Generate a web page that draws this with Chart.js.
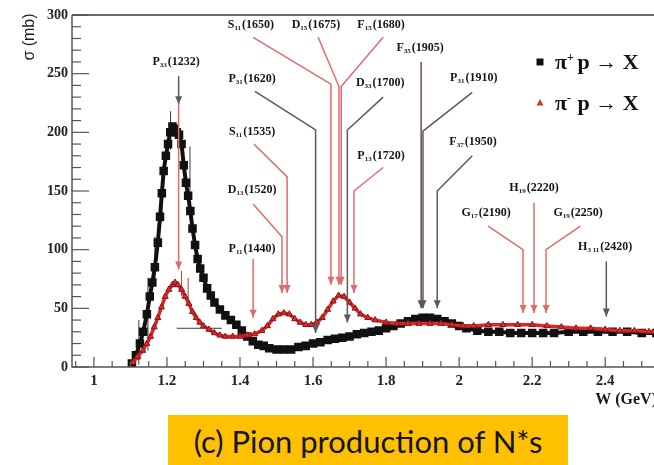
<!DOCTYPE html>
<html>
<head>
<meta charset="utf-8">
<script src="https://cdn.jsdelivr.net/npm/chart.js@4.4.0/dist/chart.umd.min.js"></script>
<style>
  html, body { margin: 0; padding: 0; background: #fff; overflow: hidden; }
  #wrap { position: relative; width: 654px; height: 465px; overflow: hidden; }
  #chart { position: absolute; left: 0; top: 0; }
  #caption {
    position: absolute; left: 168px; top: 415px; width: 400px; height: 60px;
    background: #ffc000; color: #141414; text-align: center;
    font-family: Lato, "Open Sans", sans-serif; font-size: 31px; line-height: 52px;
  }
</style>
</head>
<body>
<div id="wrap">
  <canvas id="chart" width="680" height="412"></canvas>
  <div id="caption">(c) Pion production of N*s</div>
</div>
<script>
// === DATA ===

// pi+ p -> X  (black squares)
const plusW = [1.104,1.115,1.126,1.135,1.145,1.153,1.160,1.167,1.175,1.181,1.186,1.191,1.197,1.203,1.209,1.215,1.221,1.227,1.233,1.240,
    1.246,1.252,1.258,1.264,1.270,1.277,1.284,1.291,1.300,1.310,1.320,1.330,1.345,1.360,1.375,1.390,1.405,1.420,1.435,1.450,
    1.465,1.480,1.500,1.520,1.540,1.560,1.580,1.600,1.620,1.640,1.660,1.680,1.700,1.720,1.740,1.760,1.780,1.800,1.820,1.840,
    1.860,1.880,1.900,1.920,1.940,1.960,1.980,2.000,2.020,2.050,2.080,2.110,2.140,2.170,2.200,2.230,2.260,2.300,2.340,2.380,
    2.420,2.460,2.500,2.540];
const plusSigma = [3,10,20,30,45,60,72,85,106,128,148,167,180,190,200,205,203,200,198,190,
    172,157,146,133,118,104,92,84,76,67,61,55,49,44,40,36,31,26,22,19,
    18,16,15,15,15,17,18,20,21,23,24,25,26,28,29,30,31,33,35,37,
    39,41,42,42,41,39,37,35,33,31,30,30,29,29,29,29,29,30,30,30,
    30,30,29,29];

// pi- p -> X  (red triangles)
const minusW = [1.107,1.120,1.134,1.145,1.155,1.165,1.175,1.185,1.195,1.205,1.215,1.222,1.230,1.240,1.250,1.260,1.270,1.280,1.290,1.300,
    1.315,1.330,1.345,1.360,1.380,1.400,1.420,1.440,1.460,1.475,1.490,1.505,1.520,1.535,1.550,1.565,1.580,1.595,1.610,1.625,
    1.640,1.655,1.670,1.685,1.700,1.715,1.730,1.750,1.770,1.800,1.830,1.860,1.890,1.920,1.950,1.980,2.010,2.040,2.080,2.120,
    2.160,2.200,2.240,2.280,2.320,2.360,2.400,2.440,2.480,2.520,2.550];
const minusSigma = [4,9,14,20,26,34,42,51,60,66,70,72,70,66,60,54,47,42,38,35,
    32,29,27,26,26,26,27,28,31,35,41,45,46,45,41,38,36,36,38,42,
    49,56,61,60,55,50,45,42,40,38,37,37,37,37,37,36,35,35,36,36,
    36,36,35,34,33,33,32,31,31,30,30];

// a few of the visible error bars
const plusErrW  = [1.123, 1.148, 1.167, 1.186, 1.210, 1.263];
const plusErrLo = [2, 14, 72, 123, 185, 143];
const plusErrHi = [40, 76, 111, 157, 218, 188];
const minusErrW  = [1.240, 1.258];
const minusErrLo = [60, 57];
const minusErrHi = [82, 76];
const plusWideBar = [1.227, 1.350, 33];   // from W, to W, sigma

const xTickValues = [1, 1.2, 1.4, 1.6, 1.8, 2, 2.2, 2.4];
const yTickValues = [0, 50, 100, 150, 200, 250, 300];

// resonance labels: letter, subscript, mass, W, sigma of label centre
const resLabels = [
    ['P', '33', '1232', 1.225, 261],
    ['S', '11', '1650', 1.430, 292],
    ['D', '15', '1675', 1.608, 292],
    ['F', '15', '1680', 1.786, 292],
    ['F', '35', '1905', 1.893, 273],
    ['P', '31', '1620', 1.433, 246],
    ['D', '33', '1700', 1.784, 243],
    ['P', '31', '1910', 2.040, 247],
    ['S', '11', '1535', 1.433, 201],
    ['F', '37', '1950', 2.038, 193],
    ['P', '13', '1720', 1.786, 181],
    ['D', '13', '1520', 1.433, 152],
    ['H', '19', '2220', 2.205, 153],
    ['G', '17', '2190', 2.074, 132],
    ['G', '19', '2250', 2.326, 132],
    ['P', '11', '1440', 1.433, 101],
    ['H', '3 11', '2420', 2.400, 103]
];

const RED = '#e26a6a', GREY = '#5a5a5a';
// pointer lines (W, sigma), arrow head at the last point
const resArrows = [
    [GREY, [[1.232, 248], [1.232, 224]]],
    [RED,  [[1.232, 224], [1.232, 83]]],
    [RED,  [[1.436, 281], [1.649, 241], [1.649, 70]]],
    [RED,  [[1.614, 281], [1.671, 239], [1.671, 70]]],
    [RED,  [[1.792, 281], [1.677, 239], [1.677, 70]]],
    [GREY, [[1.441, 235], [1.607, 202], [1.607, 29]]],
    [GREY, [[1.792, 230], [1.694, 202], [1.694, 38]]],
    [RED,  [[1.438, 190], [1.529, 162], [1.529, 63]]],
    [RED,  [[1.436, 139], [1.515, 111], [1.515, 63]]],
    [RED,  [[1.792, 170], [1.712, 150], [1.712, 63]]],
    [RED,  [[1.436, 92], [1.436, 42]]],
    ['#6e4848', [[1.896, 260], [1.896, 50]]],
    [GREY, [[2.036, 234], [1.901, 201], [1.901, 50]]],
    [GREY, [[2.036, 180], [1.940, 150], [1.940, 50]]],
    [RED,  [[2.079, 120], [2.175, 100], [2.175, 46]]],
    [RED,  [[2.205, 140], [2.205, 46]]],
    [RED,  [[2.332, 120], [2.238, 100], [2.238, 46]]],
    [GREY, [[2.403, 90], [2.403, 43]]]
];

// === DRAWING ===

const SERIF = '"Liberation Serif", "Times New Roman", serif';

function drawResLabel(ctx, cx, cy, letter, sub, mass) {
    const big = `bold 12px ${SERIF}`, small = `bold 7px ${SERIF}`;
    ctx.font = big;
    const w1 = ctx.measureText(letter).width;
    const w3 = ctx.measureText('(' + mass + ')').width;
    ctx.font = small;
    const w2 = ctx.measureText(sub).width + 1;
    let x = cx - (w1 + w2 + w3) / 2;
    ctx.fillStyle = '#151515';
    ctx.textAlign = 'left';
    ctx.textBaseline = 'alphabetic';
    ctx.font = big;
    ctx.fillText(letter, x, cy + 4);
    ctx.font = small;
    ctx.fillText(sub, x + w1, cy + 6);
    ctx.font = big;
    ctx.fillText('(' + mass + ')', x + w1 + w2, cy + 4);
}

function drawArrow(ctx, pts, color) {
    ctx.strokeStyle = color;
    ctx.fillStyle = color;
    ctx.lineWidth = 1.5;
    ctx.beginPath();
    pts.forEach((p, i) => i ? ctx.lineTo(p[0], p[1]) : ctx.moveTo(p[0], p[1]));
    ctx.stroke();
    const [ex, ey] = pts[pts.length - 1];
    ctx.beginPath();
    ctx.moveTo(ex, ey);
    ctx.lineTo(ex - 3.5, ey - 8);
    ctx.lineTo(ex + 3.5, ey - 8);
    ctx.closePath();
    ctx.fill();
}

const overlay = {
    id: 'overlay',
    beforeDatasetsDraw(chart) {
        const { ctx, scales: { x, y } } = chart;
        ctx.save();
        ctx.lineWidth = 1;
        ctx.strokeStyle = '#3a3a3a';
        plusErrW.forEach((w, i) => {
            ctx.beginPath();
            ctx.moveTo(x.getPixelForValue(w), y.getPixelForValue(plusErrLo[i]));
            ctx.lineTo(x.getPixelForValue(w), y.getPixelForValue(plusErrHi[i]));
            ctx.stroke();
        });
        ctx.beginPath();
        ctx.moveTo(x.getPixelForValue(plusWideBar[0]), y.getPixelForValue(plusWideBar[2]));
        ctx.lineTo(x.getPixelForValue(plusWideBar[1]), y.getPixelForValue(plusWideBar[2]));
        ctx.stroke();
        ctx.strokeStyle = '#c0392b';
        minusErrW.forEach((w, i) => {
            ctx.beginPath();
            ctx.moveTo(x.getPixelForValue(w), y.getPixelForValue(minusErrLo[i]));
            ctx.lineTo(x.getPixelForValue(w), y.getPixelForValue(minusErrHi[i]));
            ctx.stroke();
        });
        ctx.restore();
    },
    afterDraw(chart) {
        const { ctx, chartArea: a, scales: { x, y } } = chart;
        ctx.save();

        // frame
        ctx.strokeStyle = '#6a6a6a';
        ctx.lineWidth = 2;
        ctx.beginPath(); ctx.moveTo(a.left, a.top); ctx.lineTo(chart.width, a.top); ctx.stroke();
        ctx.strokeStyle = '#555';
        ctx.lineWidth = 1.5;
        ctx.beginPath(); ctx.moveTo(a.left, a.top); ctx.lineTo(a.left, a.bottom); ctx.lineTo(chart.width, a.bottom); ctx.stroke();

        // inward ticks
        ctx.lineWidth = 1.2;
        for (let v = 0; v <= 300; v += 10) {
            const py = y.getPixelForValue(v);
            const len = v % 50 === 0 ? 17 : 9;
            ctx.beginPath(); ctx.moveTo(a.left, py); ctx.lineTo(a.left + len, py); ctx.stroke();
        }
        for (let k = 19; k <= 51; k++) {
            const v = k * 0.05;
            const px = x.getPixelForValue(v);
            const len = k % 4 === 0 ? 10 : 6;
            ctx.beginPath(); ctx.moveTo(px, a.bottom); ctx.lineTo(px, a.bottom - len); ctx.stroke();
        }

        // resonance pointers and labels
        resArrows.forEach(([color, pts]) => {
            drawArrow(ctx, pts.map(p => [x.getPixelForValue(p[0]), y.getPixelForValue(p[1])]), color);
        });
        resLabels.forEach(([l, s, m, w, sig]) => {
            drawResLabel(ctx, x.getPixelForValue(w), y.getPixelForValue(sig), l, s, m);
        });

        // legend
        const legendRows = [
            { sup: '+', y: 62, draw: (cx, cy) => { ctx.fillStyle = '#111'; ctx.fillRect(cx - 3.5, cy - 3.5, 7, 7); } },
            { sup: '-', y: 103, draw: (cx, cy) => {
                ctx.fillStyle = '#e03030';
                ctx.beginPath(); ctx.moveTo(cx, cy - 4); ctx.lineTo(cx + 3.5, cy + 2.5); ctx.lineTo(cx - 3.5, cy + 2.5); ctx.closePath(); ctx.fill();
            } }
        ];
        legendRows.forEach(r => {
            r.draw(540, r.y);
            ctx.fillStyle = '#111';
            ctx.textAlign = 'left';
            ctx.textBaseline = 'alphabetic';
            ctx.font = `bold 22px ${SERIF}`;
            ctx.fillText('\u03c0', 555, r.y + 7);
            const wPi = ctx.measureText('\u03c0').width;
            ctx.font = `bold 12px ${SERIF}`;
            ctx.fillText(r.sup, 555 + wPi, r.y - 1);
            ctx.font = `bold 22px ${SERIF}`;
            ctx.fillText(' p \u2192 X', 555 + wPi + 5, r.y + 7);
        });

        // axis titles
        ctx.fillStyle = '#1a1a1a';
        ctx.font = `bold 16px ${SERIF}`;
        ctx.textAlign = 'right';
        ctx.textBaseline = 'middle';
        ctx.fillText('W (GeV)', 657, 400);

        ctx.translate(30, 37);
        ctx.rotate(-Math.PI / 2);
        ctx.font = '16px "Liberation Sans", Arial, sans-serif';
        ctx.textAlign = 'center';
        ctx.fillText('\u03c3 (mb)', 0, 0);
        ctx.restore();
    }
};

const ctx = document.getElementById('chart').getContext('2d');
const chart = new Chart(ctx, {
    type: 'scatter',
    data: {
        datasets: [
            {
                label: '\u03c0+ p \u2192 X',
                data: plusW.map((w, i) => ({ x: w, y: plusSigma[i] })),
                showLine: true, borderColor: '#111', borderWidth: 4,
                pointStyle: 'rect', pointRadius: 3.2, backgroundColor: '#111', pointBorderColor: '#111',
                order: 1
            },
            {
                label: '\u03c0- p \u2192 X',
                data: minusW.map((w, i) => ({ x: w, y: minusSigma[i] })),
                showLine: true, borderColor: '#d62828', borderWidth: 3.5,
                pointStyle: 'triangle', pointRadius: 3.5, backgroundColor: '#e02a2a', pointBorderColor: '#8a1414', pointBorderWidth: 1,
                order: 0
            }
        ]
    },
    options: {
        responsive: false, animation: false, events: [],
        layout: { padding: { top: 15, right: 20, left: 0, bottom: 0 } },
        plugins: { legend: { display: false }, tooltip: { enabled: false } },
        scales: {
            x: {
                type: 'linear', min: 0.94, max: 2.55,
                grid: { display: false, drawTicks: false }, border: { display: false },
                afterBuildTicks: s => { s.ticks = xTickValues.map(v => ({ value: v })); },
                afterFit: s => { s.height = 45; },
                ticks: { padding: 5, color: '#222', font: { family: SERIF, weight: 'bold', size: 15 }, callback: v => String(+v.toFixed(2)), maxRotation: 0, autoSkip: false }
            },
            y: {
                min: 0, max: 300,
                grid: { display: false, drawTicks: false }, border: { display: false },
                afterBuildTicks: s => { s.ticks = yTickValues.map(v => ({ value: v })); },
                afterFit: s => { s.width = 72; },
                ticks: { padding: 4, color: '#222', font: { family: SERIF, weight: 'bold', size: 14 } }
            }
        }
    },
    plugins: [overlay]
});
</script>
</body>
</html>
